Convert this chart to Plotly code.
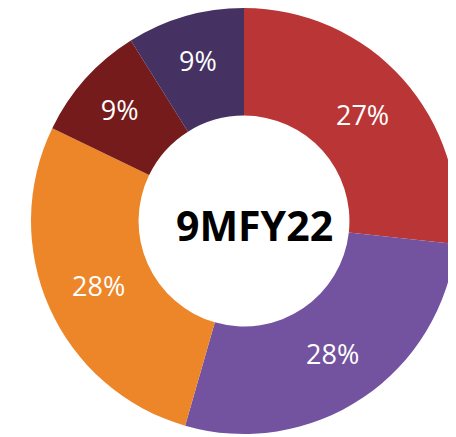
import plotly.graph_objects as go

categories = ["Segment A", "Segment B", "Segment C", "Segment D", "Segment E"]
values = [27, 28, 28, 9, 9]
colors = ["#BA3636", "#7353A0", "#EC8628", "#761B1B", "#453162"]
center_label = "9MFY22"

W, H = 456, 437

fig = go.Figure(go.Pie(
    labels=categories,
    values=values,
    sort=False,
    direction="clockwise",
    rotation=0,
    hole=0.495,
    marker=dict(colors=colors, line=dict(width=0)),
    texttemplate="%{value}%",
    textposition="inside",
    insidetextorientation="horizontal",
    textfont=dict(family="Open Sans", size=27, color="white"),
    domain=dict(x=[23 / W, 449 / W], y=[1 - 426 / H, 1.0]),
    showlegend=False,
    hoverinfo="label+value",
))

fig.add_annotation(
    text=f"<b>{center_label}</b>",
    x=246.5 / W, y=1 - 217 / H, xref="paper", yref="paper",
    showarrow=False, xanchor="center", yanchor="middle",
    font=dict(family="Open Sans", size=41, color="black"),
)

fig.update_layout(
    width=W, height=H,
    margin=dict(l=0, r=0, t=0, b=0),
    paper_bgcolor="white", plot_bgcolor="white",
)

fig.write_html("out.html")
